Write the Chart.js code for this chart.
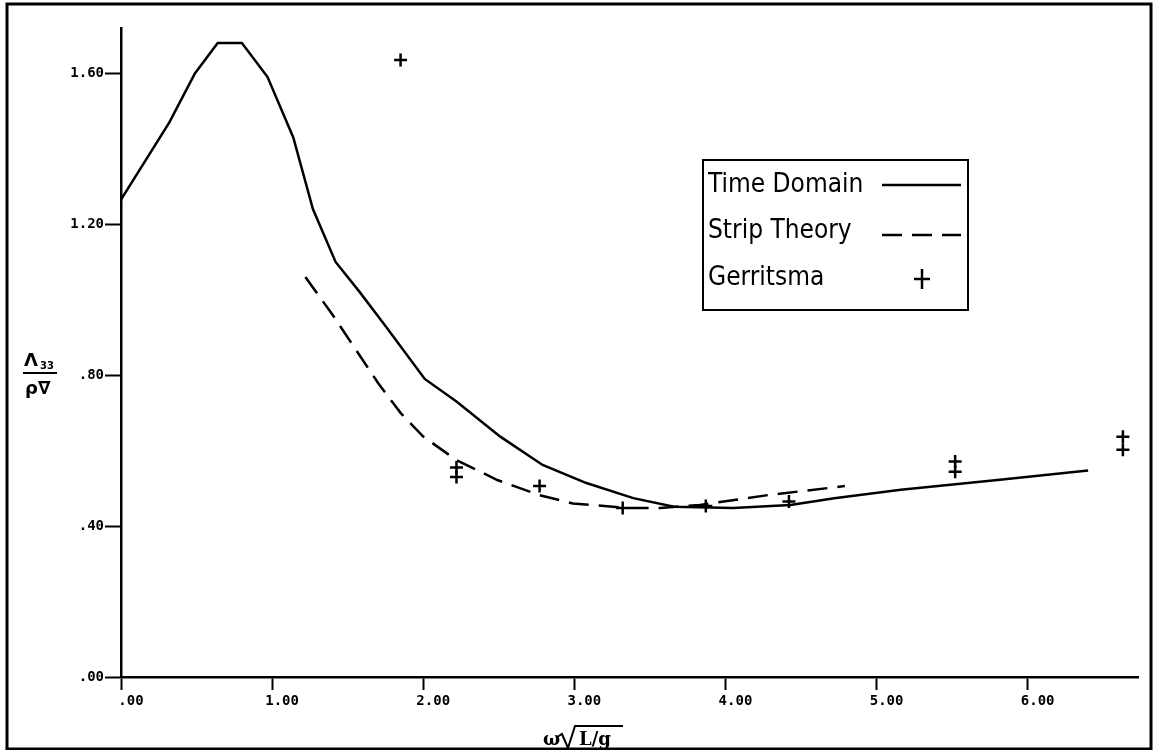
<!DOCTYPE html>
<html lang="en">
<head>
<meta charset="UTF-8">
<title>Heave damping</title>
<script src="https://cdn.jsdelivr.net/npm/chart.js"></script>
<style>
    body {
        margin: 0;
        padding: 0;
        background: #fff;
    }
    .wrap {
        width: 1155px;
        height: 750px;
    }
</style>
</head>
<body>
<div class="wrap">
    <canvas id="dampChart" width="1155" height="750"></canvas>
</div>

<script>
    // Time domain result
    var tdX = [0.00, 0.32, 0.49, 0.64, 0.80, 0.97, 1.14, 1.27, 1.42, 1.58, 1.75, 2.01, 2.22, 2.51, 2.79, 3.08, 3.39, 3.66, 4.05, 4.43, 4.72, 5.16, 5.80, 6.40];
    var tdY = [1.265, 1.47, 1.60, 1.68, 1.68, 1.59, 1.43, 1.24, 1.10, 1.02, 0.93, 0.79, 0.73, 0.637, 0.562, 0.514, 0.474, 0.451, 0.448, 0.456, 0.474, 0.496, 0.522, 0.547];

    // Strip theory
    var stripX = [1.22, 1.40, 1.55, 1.70, 1.85, 2.00, 2.22, 2.49, 2.77, 2.99, 3.35, 3.57, 3.83, 4.28, 4.79];
    var stripY = [1.06, 0.96, 0.87, 0.78, 0.70, 0.637, 0.575, 0.522, 0.482, 0.46, 0.448, 0.448, 0.456, 0.482, 0.506];

    // Gerritsma experiments
    var gerX = [1.85, 2.22, 2.22, 2.77, 3.32, 3.87, 4.42, 5.52, 5.52, 6.63, 6.63];
    var gerY = [1.635, 0.555, 0.53, 0.506, 0.448, 0.453, 0.465, 0.571, 0.544, 0.637, 0.602];

    var seriesNames = ['Time Domain', 'Strip Theory', 'Gerritsma'];

    function pts(xs, ys) {
        return xs.map(function(x, i) { return {x: x, y: ys[i]}; });
    }

    function fmt(v) {
        return v.toFixed(2).replace(/^0/, '');
    }

    // frame, legend box and axis titles
    var decor = {
        id: 'decor',
        afterDraw: function(chart) {
            var ctx = chart.ctx;
            ctx.save();
            ctx.strokeStyle = '#000';
            ctx.fillStyle = '#000';

            ctx.lineWidth = 3;
            ctx.strokeRect(7, 4, 1144, 745);

            // legend
            ctx.lineWidth = 2;
            ctx.strokeRect(703, 160, 265, 150);
            ctx.font = '26px "DejaVu Sans Condensed", "Liberation Sans Narrow", sans-serif';
            ctx.textBaseline = 'middle';
            ctx.textAlign = 'left';
            var rows = [185, 231, 278];
            chart.data.datasets.forEach(function(ds, i) {
                ctx.fillText(ds.label, 708, rows[i]);
                ctx.lineWidth = 2.5;
                if (ds.showLine) {
                    var yy = rows[i] + (i === 1 ? 4 : 0);
                    ctx.setLineDash(ds.borderDash || []);
                    ctx.beginPath();
                    ctx.moveTo(882, yy);
                    ctx.lineTo(961, yy);
                    ctx.stroke();
                    ctx.setLineDash([]);
                } else {
                    ctx.beginPath();
                    ctx.moveTo(922, rows[i] - 9);
                    ctx.lineTo(922, rows[i] + 11);
                    ctx.moveTo(914, rows[i] + 1);
                    ctx.lineTo(930, rows[i] + 1);
                    ctx.stroke();
                }
            });

            // y title: fraction
            ctx.font = 'bold 18px "DejaVu Sans", sans-serif';
            ctx.textAlign = 'left';
            ctx.textBaseline = 'alphabetic';
            ctx.fillText('\u039B', 24, 366);
            ctx.font = 'bold 10px "DejaVu Sans", sans-serif';
            ctx.fillText('33', 40, 369);
            ctx.lineWidth = 2;
            ctx.beginPath();
            ctx.moveTo(23, 373);
            ctx.lineTo(57, 373);
            ctx.stroke();
            ctx.font = 'bold 18px "DejaVu Sans", sans-serif';
            ctx.fillText('\u03C1\u2207', 25, 394);

            // x title: omega sqrt(L/g)
            ctx.font = 'bold 18px "DejaVu Serif", serif';
            ctx.fillText('\u03C9', 543, 745);
            ctx.lineWidth = 2;
            ctx.beginPath();
            ctx.moveTo(557, 737);
            ctx.lineTo(562, 734);
            ctx.lineTo(568, 748);
            ctx.lineTo(575, 726);
            ctx.lineTo(623, 726);
            ctx.stroke();
            ctx.fillText('L/g', 579, 745);
            ctx.restore();
        }
    };

    var ctx = document.getElementById('dampChart').getContext('2d');
    var dampChart = new Chart(ctx, {
        type: 'scatter',
        data: {
            datasets: [{
                label: seriesNames[0],
                data: pts(tdX, tdY),
                showLine: true,
                borderColor: '#000',
                borderWidth: 2.5,
                pointRadius: 0,
                tension: 0
            }, {
                label: seriesNames[1],
                data: pts(stripX, stripY),
                showLine: true,
                borderColor: '#000',
                borderWidth: 2.5,
                borderDash: [20, 10],
                pointRadius: 0,
                tension: 0
            }, {
                label: seriesNames[2],
                data: pts(gerX, gerY),
                showLine: false,
                pointStyle: 'cross',
                pointRadius: 6.5,
                borderColor: '#000',
                borderWidth: 2.5,
                backgroundColor: '#000'
            }]
        },
        options: {
            responsive: false,
            animation: false,
            layout: {
                padding: {top: 28, right: 17, left: 0, bottom: 0}
            },
            plugins: {
                legend: {display: false},
                tooltip: {enabled: false}
            },
            scales: {
                x: {
                    type: 'linear',
                    min: 0,
                    max: 6.73,
                    afterFit: function(scale) { scale.height = 73; },
                    border: {display: true, color: '#000', width: 2.5},
                    grid: {
                        drawOnChartArea: false,
                        color: '#000',
                        tickLength: 13,
                        tickWidth: 2
                    },
                    ticks: {
                        stepSize: 1,
                        includeBounds: false,
                        color: '#000',
                        padding: 3,
                        labelOffset: 10,
                        maxRotation: 0,
                        font: {family: '"DejaVu Sans Mono", monospace', size: 14, weight: 'bold'},
                        callback: function(v) { return fmt(v); }
                    }
                },
                y: {
                    type: 'linear',
                    min: 0,
                    max: 1.72,
                    afterFit: function(scale) { scale.width = 121; },
                    border: {display: true, color: '#000', width: 2.5},
                    grid: {
                        drawOnChartArea: false,
                        color: '#000',
                        tickLength: 16,
                        tickWidth: 2
                    },
                    ticks: {
                        stepSize: 0.4,
                        includeBounds: false,
                        color: '#000',
                        padding: 1,
                        font: {family: '"DejaVu Sans Mono", monospace', size: 14, weight: 'bold'},
                        callback: function(v) { return fmt(v); }
                    }
                }
            }
        },
        plugins: [decor]
    });
</script>
</body>
</html>
